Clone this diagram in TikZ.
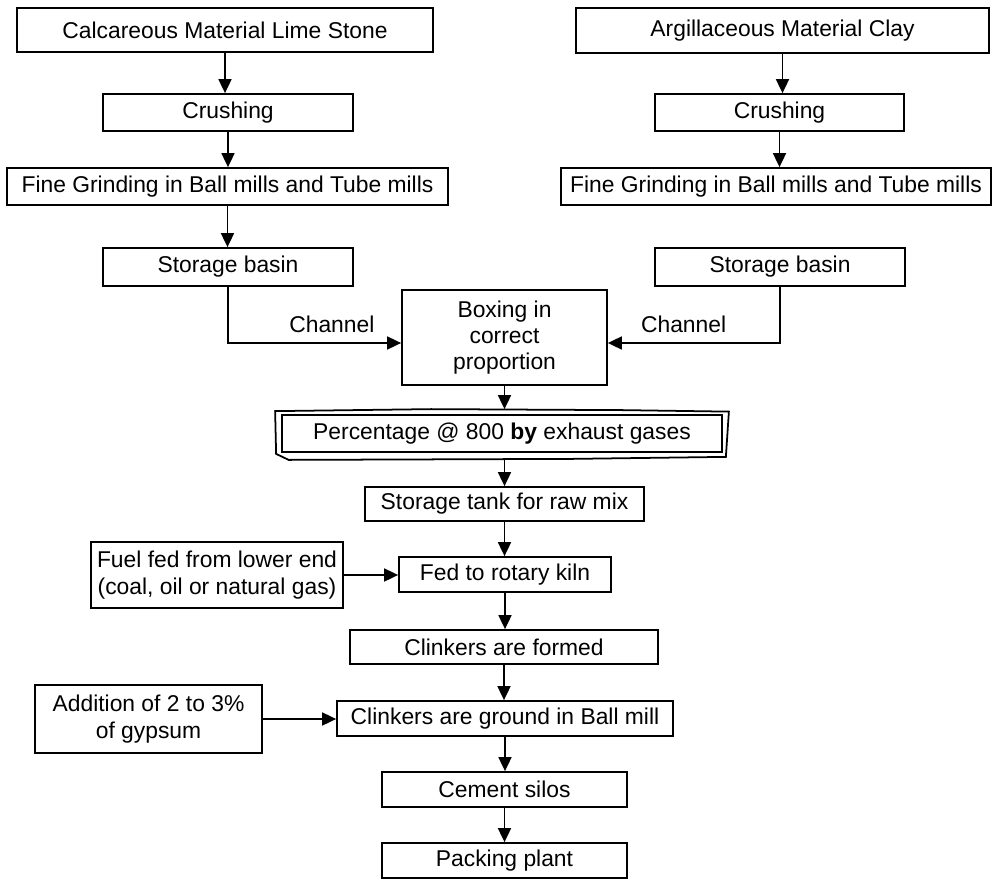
\documentclass[tikz,border=0pt]{standalone}
\usepackage{fontspec}
\setmainfont{Liberation Sans}
\usetikzlibrary{arrows.meta}

\begin{document}
\begin{tikzpicture}[
  box/.style={draw, line width=1pt, align=center, inner sep=1pt,
    font=\fontsize{13}{15}\selectfont},
  flow/.style={line width=1pt, -{Triangle[length=0.28cm,width=0.26cm]}}]
\useasboundingbox (0,0) rectangle (19.86,-17.58);
% left branch:
\node[box, minimum width=8.32cm, minimum height=0.88cm] (calc) at (4.5,-0.6) {Calcareous Material Lime Stone};
\node[box, minimum width=5cm, minimum height=0.74cm] (crushL) at (4.56,-2.25) {Crushing};
\node[box, minimum width=8.82cm, minimum height=0.74cm] (fineL) at (4.55,-3.73) {Fine Grinding in Ball mills and Tube mills};
\node[box, minimum width=5cm, minimum height=0.76cm] (storL) at (4.56,-5.34) {Storage basin};
% right branch:
\node[box, minimum width=8.26cm, minimum height=0.9cm] (arg) at (15.65,-0.61) {Argillaceous Material Clay};
\node[box, minimum width=4.98cm, minimum height=0.74cm] (crushR) at (15.59,-2.25) {Crushing};
\node[box, minimum width=8.6cm, minimum height=0.74cm] (fineR) at (15.52,-3.73) {Fine Grinding in Ball mills and Tube mills};
\node[box, minimum width=5cm, minimum height=0.76cm] (storR) at (15.6,-5.34) {Storage basin};
% main line:
\node[box, minimum width=4.1cm, minimum height=1.9cm] (boxing) at (10.09,-6.75) {Boxing in\\correct\\proportion};
\node[box, minimum width=8.8cm, minimum height=0.74cm] (perc) at (10.04,-8.67) {Percentage @ 800 \textbf{by} exhaust gases};
\node[box, minimum width=5.58cm, minimum height=0.68cm] (tank) at (10.09,-10.08) {Storage tank for raw mix};
\node[box, minimum width=4.24cm, minimum height=0.7cm] (kiln) at (10.1,-11.49) {Fed to rotary kiln};
\node[box, minimum width=6.16cm, minimum height=0.68cm] (formed) at (10.08,-12.94) {Clinkers are formed};
\node[box, minimum width=6.72cm, minimum height=0.7cm] (ground) at (10.1,-14.37) {Clinkers are ground in Ball mill};
\node[box, minimum width=4.9cm, minimum height=0.7cm] (silos) at (10.09,-15.79) {Cement silos};
\node[box, minimum width=4.9cm, minimum height=0.7cm] (packing) at (10.09,-17.21) {Packing plant};
% side inputs:
\node[box, minimum width=5.04cm, minimum height=1.32cm] (fuel) at (4.34,-11.5) {Fuel fed from lower end\\(coal, oil or natural gas)};
\node[box, minimum width=4.54cm, minimum height=1.36cm] (addition) at (2.97,-14.38) {Addition of 2 to 3\%\\of gypsum};
% scribbled outline round perc
\draw[line width=1pt] ([shift={(-0.12,0.06)}]perc.north west) -- ([shift={(3,0.1)}]perc.north west)
  -- ([shift={(-2,0.08)}]perc.north east) -- ([shift={(0.12,0.05)}]perc.north east)
  -- ([shift={(0.06,-0.08)}]perc.south east) -- ([shift={(-3,-0.12)}]perc.south east)
  -- ([shift={(0.15,-0.14)}]perc.south west) -- ([shift={(-0.1,-0.02)}]perc.south west) -- cycle;
% arrows, left
\draw[flow] (calc.south) -- (calc.south |- crushL.north);
\draw[flow] (crushL.south) -- (crushL.south |- fineL.north);
\draw[flow] (fineL.south) -- (fineL.south |- storL.north);
% arrows, right
\draw[flow] (arg.south) -- (arg.south |- crushR.north);
\draw[flow] (crushR.south) -- (crushR.south |- fineR.north);
% channels
\draw[flow] (storL.south) |- ([yshift=-0.11cm]boxing.west) node[pos=0.8, above=2pt, font=\fontsize{13}{15}\selectfont] {Channel};
\draw[flow] (storR.south) |- ([yshift=-0.11cm]boxing.east) node[pos=0.78, above=2pt, font=\fontsize{13}{15}\selectfont] {Channel};
% arrows, main line
\draw[flow] (boxing.south) -- ([yshift=0.1cm]boxing.south |- perc.north);
\draw[flow] ([yshift=-0.12cm]perc.south -| tank.north) -- (tank.north);
\draw[flow] (tank.south) -- (tank.south |- kiln.north);
\draw[flow] (kiln.south) -- (kiln.south |- formed.north);
\draw[flow] (formed.south) -- (formed.south |- ground.north);
\draw[flow] (ground.south) -- (ground.south |- silos.north);
\draw[flow] (silos.south) -- (silos.south |- packing.north);
\draw[flow] (fuel.east) -- (fuel.east -| kiln.west);
\draw[flow] (addition.east) -- (addition.east -| ground.west);
\end{tikzpicture}
\end{document}
